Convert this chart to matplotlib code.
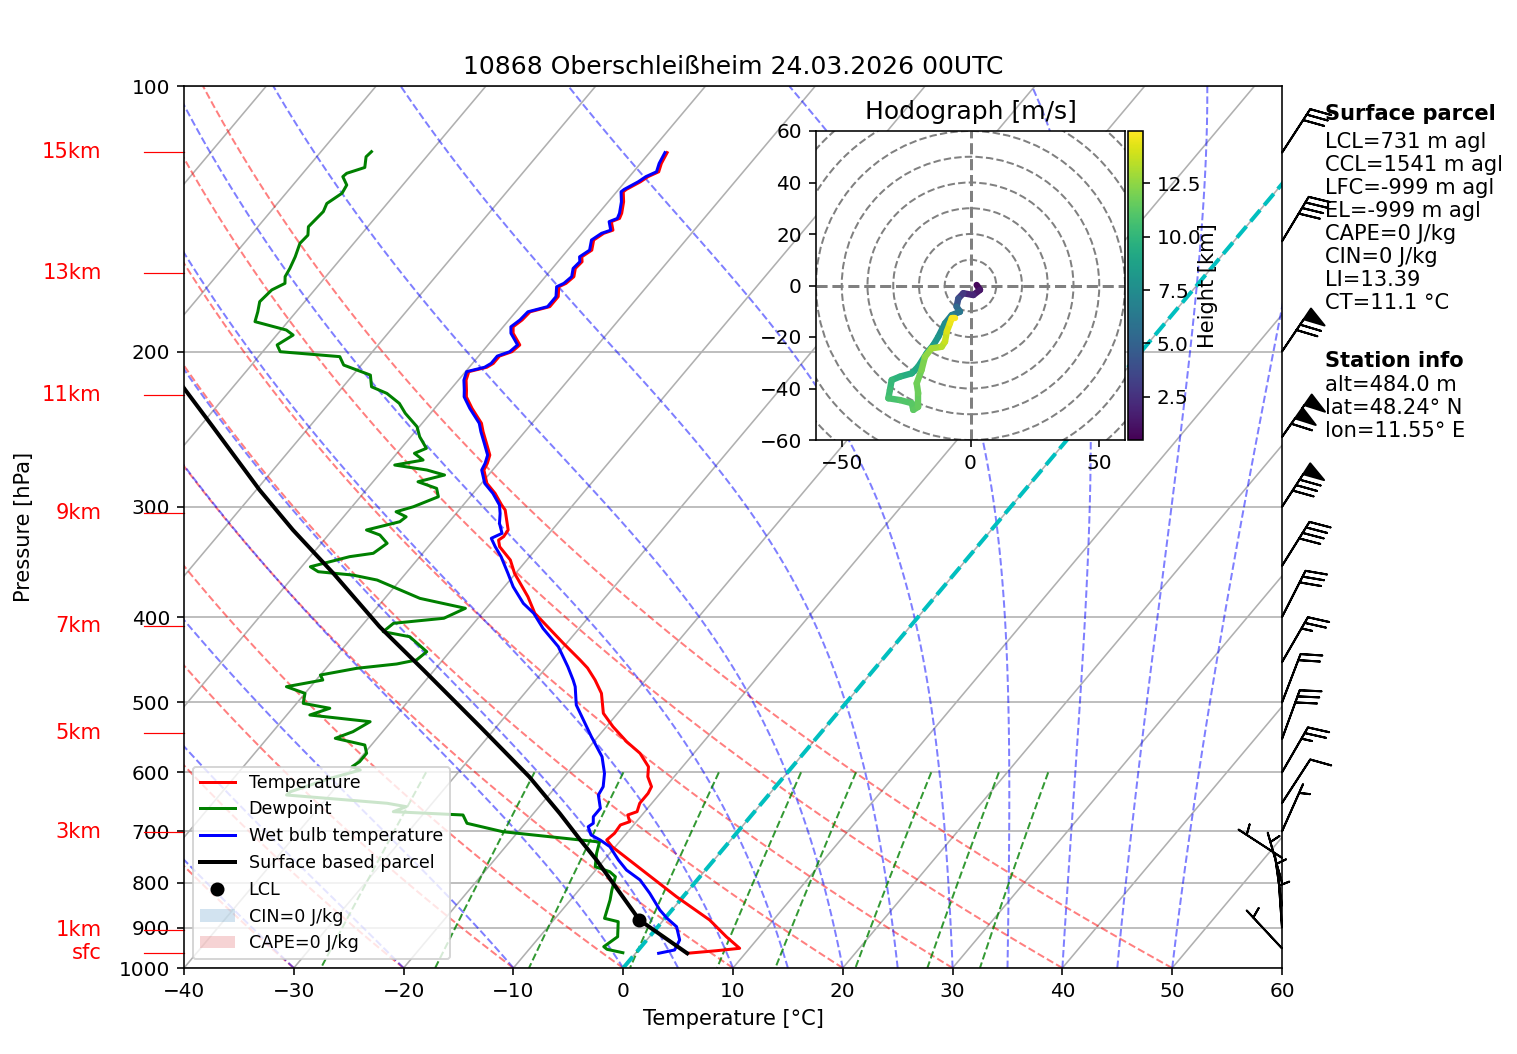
import numpy as np
import matplotlib
matplotlib.use('Agg')
import matplotlib.pyplot as plt
import matplotlib.transforms as mtransforms
from matplotlib.collections import LineCollection
from matplotlib.patches import Circle, Patch
from matplotlib.lines import Line2D
from matplotlib.ticker import FixedLocator, NullLocator, FuncFormatter

# ---------------- sounding data ----------------
temp_p = [119.0, 122.4, 125.1, 126.7, 128.4, 131.0, 131.8, 135.3, 139.4, 141.3, 142.5, 145.7,
          146.9, 149.5, 153.5, 156.2, 158.2, 161.0, 164.5, 167.4, 168.9, 173.3, 177.9, 180.3,
          184.2, 187.5, 190.7, 196.6, 200.1, 202.4, 206.3, 208.4, 210.8, 215.5, 221.2, 225.1,
          232.0, 241.2, 246.6, 254.2, 262.1, 267.8, 272.5, 282.2, 289.6, 298.6,
          302.5, 310.5, 318.7, 324.3, 327.2, 332.9, 344.7, 356.9, 379.3, 396.1, 428.4, 447.5,
          457.0, 471.5, 488.2, 514.3, 532.6, 553.9, 570.9, 591.3, 606.9, 622.9, 633.8, 650.5,
          664.9, 670.7, 682.5, 688.4, 703.5, 715.9, 728.5, 770.9, 830.2, 882.2, 921.6, 949.9,
          955.8, 962.3]
temp_c = [-58.4, -58.1, -57.7, -58.3, -58.6, -59.3, -59.4, -58.6, -57.9, -57.7, -58.2, -57.4,
          -58.0, -58.4, -57.8, -58.2, -57.8, -57.9, -57.4, -57.6, -58.0, -57.3, -57.3, -58.7,
          -58.8, -59.1, -58.6, -57.1, -57.3, -58.1, -58.1, -58.4, -59.7, -59.3, -58.5, -58.0,
          -56.6, -54.6, -53.8, -52.6, -51.4, -51.0, -50.8, -49.5, -48.0, -46.5,
          -45.8, -44.9, -44.0, -43.9, -44.1, -43.5, -41.5, -40.1, -37.1, -35.2, -30.3, -27.5,
          -26.2, -24.6, -23.0, -21.3, -19.4, -17.0, -14.9, -13.1, -12.4, -11.3, -11.1, -11.1,
          -10.7, -11.3, -10.6, -11.2, -11.1, -11.3, -10.3, -6.1, -0.6, 4.2, 7.0, 9.1,
          7.2, 4.7]

wetb_p = [119.0, 122.4, 125.1, 126.7, 128.4, 131.0, 131.8, 135.3, 139.4, 141.3, 142.5, 145.7,
          146.9, 149.5, 153.5, 156.2, 158.2, 161.0, 164.5, 167.4, 168.9, 173.3, 177.9, 180.3,
          184.2, 187.5, 190.7, 196.6, 200.1, 202.4, 206.3, 208.4, 210.8, 215.5, 221.2, 225.1,
          232.0, 241.2, 246.6, 254.2, 262.1, 267.8, 272.5, 282.2, 289.6, 298.6,
          305.2, 313.2, 321.5, 325.7, 332.9, 341.7, 356.9, 369.6, 386.0, 396.1, 412.0, 432.2,
          455.4, 471.5, 479.8, 503.3, 523.4, 546.7, 576.0, 601.6, 622.9, 636.6, 659.1, 673.7,
          685.4, 691.5, 706.7, 715.9, 728.5, 754.3, 774.3, 794.7, 822.8, 859.5, 878.4, 897.8,
          929.5, 954.1, 962.3]
wetb_c = [-58.6, -58.3, -57.9, -58.5, -58.8, -59.5, -59.6, -58.8, -58.1, -57.9, -58.4, -57.6,
          -58.2, -58.6, -58.0, -58.4, -58.0, -58.1, -57.6, -57.8, -58.2, -57.5, -57.5, -58.9,
          -59.0, -59.3, -58.8, -57.3, -57.5, -58.3, -58.3, -58.6, -59.9, -59.5, -58.7, -58.2,
          -56.8, -54.8, -54.0, -52.8, -51.6, -51.2, -51.0, -49.7, -48.2, -46.7,
          -46.0, -45.3, -44.3, -44.9, -43.9, -42.6, -40.7, -39.2, -37.0, -35.3, -33.3, -30.5,
          -28.1, -26.6, -25.9, -24.4, -22.6, -20.6, -18.1, -16.6, -15.7, -15.5, -14.3, -14.3,
          -13.8, -14.0, -13.1, -11.9, -10.5, -8.7, -7.2, -5.2, -3.3, -1.1, 0.2, 1.7,
          3.0, 3.3, 2.1]

dewp_p = [118.7, 120.3, 123.7, 125.6, 126.7, 129.5, 132.3, 135.9, 138.8, 144.4, 147.6, 150.8,
          156.2, 161.0, 164.5, 167.4, 170.3, 175.6, 180.3, 185.0, 189.1, 191.6, 196.6, 200.1,
          202.7, 207.2, 212.7, 219.3, 223.1, 229.0, 235.0, 243.4, 249.8, 257.5, 260.9, 265.5,
          269.0, 272.5, 276.1, 281.0, 285.9, 292.2, 299.9, 303.9, 307.9, 311.9, 318.7, 322.9,
          330.0, 338.7, 341.7, 350.8, 355.4, 358.5, 363.2, 381.0, 391.0, 401.3, 406.6, 415.6,
          421.1, 437.9, 447.5, 452.2, 457.3, 465.4, 471.5, 479.8, 488.2, 501.1, 507.6, 516.6,
          525.7, 539.6, 549.0, 558.7, 570.9, 583.6, 591.3, 596.4, 609.5, 631.2, 636.6, 644.9,
          650.5, 656.3, 664.9, 670.7, 685.4, 700.6, 715.9, 719.7, 741.3, 767.6, 777.7, 787.9,
          815.8, 837.4, 878.4, 886.1, 921.6, 945.9, 952.4, 960.9]
dewp_c = [-85.4, -85.5, -84.8, -86.0, -86.1, -85.1, -84.9, -85.5, -85.2, -85.4, -84.8, -84.9,
          -84.3, -83.9, -83.7, -83.2, -83.9, -84.1, -83.5, -83.0, -79.5, -78.5, -79.2, -78.4,
          -72.6, -71.6, -68.4, -67.4, -65.5, -63.6, -62.3, -60.2, -59.2, -57.7, -58.4, -57.1,
          -59.3, -56.0, -54.0, -55.9, -53.7, -52.9, -54.4, -55.6, -54.3, -54.5, -56.9, -55.3,
          -54.0, -54.5, -56.4, -59.2, -58.1, -54.7, -52.1, -46.8, -41.9, -43.1, -47.3, -47.6,
          -44.8, -42.1, -42.4, -43.9, -47.2, -50.0, -49.4, -52.2, -50.0, -49.4, -46.6, -47.9,
          -41.9, -42.7, -43.8, -40.6, -39.8, -39.8, -40.1, -39.1, -41.2, -43.8, -43.9, -38.0,
          -34.1, -32.1, -32.9, -26.3, -25.3, -21.4, -13.7, -11.8, -11.2, -10.3, -8.6, -7.7,
          -7.0, -6.4, -5.5, -4.0, -2.9, -3.4, -2.9, -1.2]

parcel_p = [962.3, 882.2, 754.3, 715.9, 668.0, 606.9, 532.6, 459.3, 410.3, 356.9,
            318.7, 287.1, 243.4, 221.2, 200.0]
parcel_c = [4.7, -2.2, -10.7, -13.7, -17.6, -23.2, -31.5, -41.0, -48.3, -56.6,
            -63.6, -69.7, -78.8, -84.1, -89.6]
lcl_p = 882.2
lcl_c = -2.2

# height markers on the left
hgt_km = [15, 13, 11, 9, 7, 5, 3, 1]
hgt_p = [118.9, 163.1, 224.0, 305.2, 409.5, 541.9, 701.7, 905.6]
sfc_p = 962.3

# wind barbs (knots, direction wind comes from)
barb_p = [119, 150, 200, 250, 300, 350, 400, 450, 500, 550, 600, 650, 700, 750, 800, 850, 900, 950]
barb_kt = [30, 40, 70, 110, 80, 40, 30, 25, 20, 30, 25, 10, 5, 5, 5, 5, 5, 5]
barb_dir = [33, 31, 34, 35, 33, 32, 27, 30, 21, 20, 30, 33, 24, 303, 344, 352, 356, 317]

# hodograph (m/s) and height (km)
hodo_u = [2.4, 3.7, 1.1, -2.8, -4.7, -5.4, -4.1, -7.3, -9.9, -12.5, -14.4, -17.0, -20.3, -22.8,
          -27.4, -30.6, -31.3, -31.9, -27.4, -22.8, -22.2, -20.3, -20.3, -20.9, -19.0, -17.7,
          -15.1, -11.2, -9.9, -9.2, -8.0, -7.3, -6.0]
hodo_v = [0.2, -1.7, -3.7, -3.0, -5.0, -8.2, -10.2, -11.5, -14.7, -19.9, -23.1, -26.3, -31.5,
          -34.1, -35.4, -36.7, -40.6, -43.8, -44.5, -45.7, -48.3, -47.1, -41.9, -38.0, -32.8,
          -27.7, -24.4, -23.8, -21.8, -17.9, -14.7, -12.7, -12.7]
hodo_z = [0.48, 1.0, 1.7, 2.4, 3.2, 5.0, 5.8, 6.6, 7.3, 7.9, 8.3, 8.6, 9.0, 9.3, 9.7, 10.0,
          10.3, 10.6, 10.9, 11.1, 11.3, 11.45, 11.6, 11.75, 11.9, 12.3, 12.8, 13.2, 13.6, 14.0,
          14.4, 14.7, 14.95]

station = '10868 Oberschleißheim'
date_str = '24.03.2026 00UTC'
lcl_m, ccl_m, lfc_m, el_m = 731, 1541, -999, -999
cape, cin, li, ct = 0, 0, 13.39, 11.1
alt, lat, lon = 484.0, 48.24, 11.55

# ---------------- helpers ----------------
SKEW = 67.5  # degC shift per decade of pressure
RD, CPD, LV, EPS = 287.04749, 1004.6662, 2.50084e6, 0.6219569
KAPPA = RD / CPD
FS = 10.5


def skew_x(t, p):
    return np.asarray(t, float) + SKEW * np.log10(1000.0 / np.asarray(p, float))


def sat_vp(tc):
    return 6.112 * np.exp(17.67 * tc / (tc + 243.5))


def moist_dtdp(p, tk):
    es = sat_vp(tk - 273.15)
    rs = EPS * es / (p - es)
    return (RD * tk + LV * rs) / (CPD + LV ** 2 * rs * EPS / (RD * tk ** 2)) / p


def moist_lapse(t0c, pres):
    tk = np.asarray(t0c, float) + 273.15
    out = [tk]
    for p0, p1 in zip(pres[:-1], pres[1:]):
        h = p1 - p0
        k1 = moist_dtdp(p0, tk)
        k2 = moist_dtdp(p0 + h / 2, tk + h / 2 * k1)
        k3 = moist_dtdp(p0 + h / 2, tk + h / 2 * k2)
        k4 = moist_dtdp(p1, tk + h * k3)
        tk = tk + h / 6 * (k1 + 2 * k2 + 2 * k3 + k4)
        out.append(tk)
    return np.array(out).T - 273.15


# ---------------- figure ----------------
DPI = 144
fig = plt.figure(figsize=(1517 / DPI, 1054 / DPI), dpi=DPI)
ax = fig.add_axes([184 / 1517, 86 / 1054, 1098 / 1517, 882 / 1054])
ax.set_yscale('log')

pres = np.linspace(1000, 100, 181)

# isotherms (grid)
for t in range(-160, 61, 10):
    ax.plot(skew_x([t, t], [1000, 100]), [1000, 100], color='#b0b0b0', lw=0.8, zorder=0.5)

# dry adiabats
dry_t0 = np.arange(-40, 51, 10)
segs = []
for t0 in dry_t0:
    t = (t0 + 273.15) * (pres / 1000.0) ** KAPPA - 273.15
    segs.append(np.column_stack([skew_x(t, pres), pres]))
ax.add_collection(LineCollection(segs, colors='r', linestyles='dashed', alpha=0.5,
                                 linewidths=1, zorder=1))

# moist adiabats
moist_t0 = np.concatenate([np.arange(-40, 0, 10), np.arange(0, 51, 5)])
mt = moist_lapse(moist_t0, pres)
segs = [np.column_stack([skew_x(row, pres), pres]) for row in mt]
ax.add_collection(LineCollection(segs, colors='b', linestyles='dashed', alpha=0.5,
                                 linewidths=1, zorder=1))

# mixing ratio lines
mix_w = np.array([0.0004, 0.001, 0.002, 0.004, 0.007, 0.01, 0.016, 0.024, 0.032])
pm = np.linspace(600, 1000, 50)
segs = []
for w in mix_w:
    e = pm * w / (EPS + w)
    lne = np.log(e / 6.112)
    td = 243.5 * lne / (17.67 - lne)
    segs.append(np.column_stack([skew_x(td, pm), pm]))
ax.add_collection(LineCollection(segs, colors='g', linestyles='dashed', alpha=0.8,
                                 linewidths=1, zorder=1))

# 0 degC isotherm
ax.plot(skew_x([0, 0], [1000, 100]), [1000, 100], color='c', ls='--', lw=2, zorder=1.5)

# profiles
ax.plot(skew_x(temp_c, temp_p), temp_p, color='r', lw=1.5, zorder=3)
ax.plot(skew_x(dewp_c, dewp_p), dewp_p, color='g', lw=1.5, zorder=3)
ax.plot(skew_x(wetb_c, wetb_p), wetb_p, color='b', lw=1.5, zorder=3)
ax.plot(skew_x(parcel_c, parcel_p), parcel_p, color='k', lw=2, zorder=3)
ax.plot(skew_x([lcl_c], [lcl_p]), [lcl_p], 'ko', markerfacecolor='black', zorder=4)

ax.set_xlim(-40, 60)
ax.set_ylim(1000, 100)
ax.xaxis.set_major_locator(FixedLocator(range(-40, 61, 10)))
ax.yaxis.set_major_locator(FixedLocator(range(100, 1001, 100)))
ax.yaxis.set_minor_locator(NullLocator())
ax.yaxis.set_major_formatter(FuncFormatter(lambda v, _: f'{v:.0f}'))
ax.grid(True, axis='y', color='#b0b0b0', lw=0.8)
ax.set_axisbelow(True)
ax.set_xlabel('Temperature [°C]', fontsize=FS)
ax.set_ylabel('Pressure [hPa]', fontsize=FS)
ax.yaxis.set_label_coords(-0.137, 0.5)
ax.set_title(f'{station} {date_str}', fontsize=12.5)

# legend
handles = [Line2D([], [], color='r', lw=1.5), Line2D([], [], color='g', lw=1.5),
           Line2D([], [], color='b', lw=1.5), Line2D([], [], color='k', lw=2),
           Line2D([], [], color='k', marker='o', ls='none'),
           Patch(facecolor='tab:blue', alpha=0.2), Patch(facecolor='tab:red', alpha=0.2)]
labels = ['Temperature', 'Dewpoint', 'Wet bulb temperature', 'Surface based parcel', 'LCL',
          f'CIN={cin} J/kg', f'CAPE={cape} J/kg']
ax.legend(handles, labels, loc='lower left', fontsize=8.75)

# height labels
bt = mtransforms.blended_transform_factory(ax.transAxes, ax.transData)
for km, p in zip(hgt_km, hgt_p):
    ax.plot([-0.0364, 0], [p, p], transform=bt, color='r', lw=0.6, clip_on=False)
    ax.text(-0.075, p, f'{km}km', transform=bt, color='r', ha='right', va='center',
            fontsize=FS)
ax.plot([-0.0364, 0], [sfc_p, sfc_p], transform=bt, color='r', lw=0.6, clip_on=False)
ax.text(-0.075, sfc_p, 'sfc', transform=bt, color='r', ha='right', va='center', fontsize=FS)

# wind barbs
wd = np.deg2rad(barb_dir)
bu = -np.array(barb_kt) * np.sin(wd)
bv = -np.array(barb_kt) * np.cos(wd)
ax.barbs(np.ones(len(barb_p)), barb_p, bu, bv, transform=bt, clip_on=False,
         length=7.2, zorder=5)

# info text
tx = 1.039
ax.text(tx, 0.9795, 'Surface parcel', transform=ax.transAxes, fontweight='bold', va='top',
        fontsize=FS)
ax.text(tx, 0.9484,
        f'LCL={lcl_m} m agl\nCCL={ccl_m} m agl\nLFC={lfc_m} m agl\nEL={el_m} m agl\n'
        f'CAPE={cape} J/kg\nCIN={cin} J/kg\nLI={li:.2f}\nCT={ct:.1f} °C',
        transform=ax.transAxes, va='top', linespacing=1.19, fontsize=FS)
ax.text(tx, 0.6998, 'Station info', transform=ax.transAxes, fontweight='bold', va='top',
        fontsize=FS)
ax.text(tx, 0.6726, f'alt={alt:.1f} m\nlat={lat:.2f}° N\nlon={lon:.2f}° E',
        transform=ax.transAxes, va='top', linespacing=1.19, fontsize=FS)

# hodograph inset
hax = fig.add_axes([816 / 1517, 614 / 1054, 309 / 1517, 309 / 1054])
hax.set_xlim(-60, 60)
hax.set_ylim(-60, 60)
for r in np.arange(10, 60 * 1.4142135, 10):
    hax.add_patch(Circle((0, 0), r, fill=False, edgecolor='grey', linestyle='dashed'))
hax.axvline(0, color='grey', ls='dashed')
hax.axhline(0, color='grey', ls='dashed')
pts = np.column_stack([hodo_u, hodo_v])
hz = np.array(hodo_z)
lc = LineCollection(np.stack([pts[:-1], pts[1:]], axis=1), cmap='viridis',
                    norm=plt.Normalize(hz.min(), hz.max()), linewidths=3.2, zorder=3,
                    capstyle='round')
lc.set_array(0.5 * (hz[:-1] + hz[1:]))
hax.add_collection(lc)
hax.set_xticks([-50, 0, 50])
hax.set_yticks(range(-60, 61, 20))
hax.set_title('Hodograph [m/s]', fontsize=12.5)

cax = fig.add_axes([1128 / 1517, 614 / 1054, 15 / 1517, 309 / 1054])
cb = fig.colorbar(lc, cax=cax)
cb.set_ticks([2.5, 5.0, 7.5, 10.0, 12.5])
cb.set_label('Height [km]', fontsize=FS)
cb.ax.yaxis.set_label_coords(4.67, 0.5)

fig.savefig('out.png', dpi=DPI)
